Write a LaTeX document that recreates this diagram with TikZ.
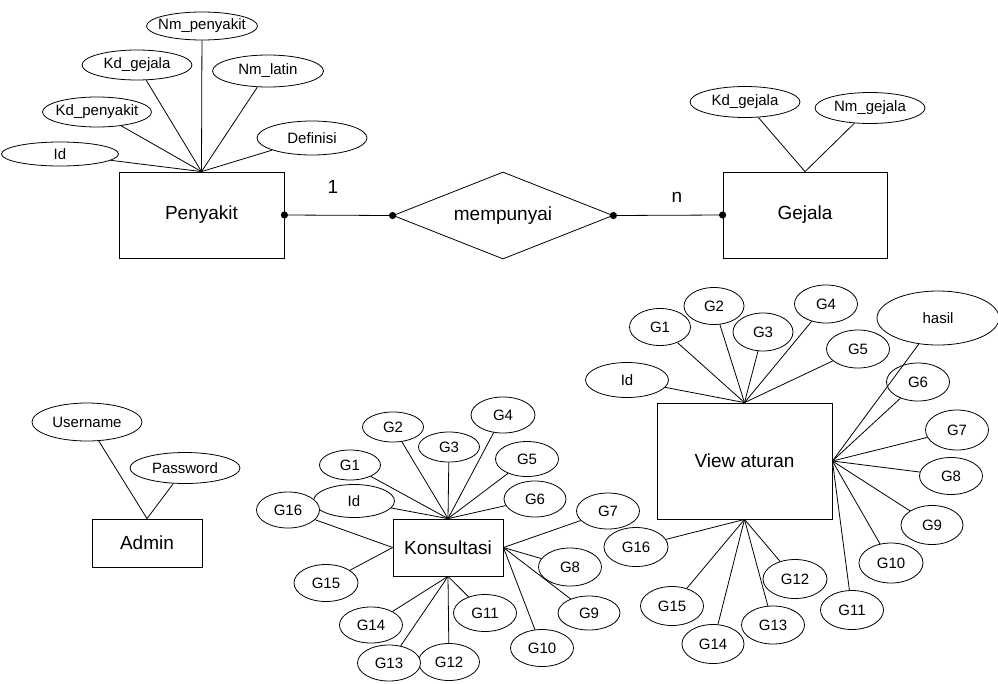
\documentclass[tikz,border=0pt]{standalone}
\usepackage{fontspec}
\setmainfont{Liberation Sans}
\usetikzlibrary{shapes.geometric}
\newcommand\zw[1]{\makebox[0pt]{#1}}
\tikzset{
  attr/.style={ellipse, draw, fill=white, inner sep=0pt, line width=0.8pt, font=\fontsize{15}{18}\selectfont},
  ent/.style={rectangle, draw, fill=white, inner sep=0pt, line width=0.8pt, font=\fontsize{19}{23}\selectfont},
  rel/.style={diamond, draw, fill=white, inner sep=0pt, line width=0.8pt, font=\fontsize{19}{23}\selectfont},
  lnk/.style={line width=0.8pt},
  card/.style={font=\fontsize{19}{23}\selectfont, inner sep=0pt},
  dotr/.style={fill=black}
}
\newcommand\A[5]{\node[attr, minimum width=#3, minimum height=#4] (#1) at (#2) {\zw{#5}};}
\begin{document}
\begin{tikzpicture}[x=1pt,y=-1pt]
\useasboundingbox (0,0) rectangle (998,683);

% ---------- Penyakit ----------
\node[ent, minimum width=165, minimum height=86] (pen) at (201.5,215) {Penyakit};
\A{pid}{60,154}{117}{24}{Id}
\A{pkdp}{97,112}{109}{30}{Kd\_penyakit}
\A{pkdg}{137,65}{110}{30}{Kd\_gejala}
\A{pnmp}{202,26}{111}{28}{Nm\_penyakit}
\A{pnml}{268,71}{111}{32}{Nm\_latin}
\A{pdef}{312,138}{110}{34}{Definisi}
\foreach \n in {pid,pkdp,pkdg,pnmp,pnml,pdef} \draw[lnk] (\n) -- (pen.north);

% ---------- relationship ----------
\node[rel, minimum width=220, minimum height=87] (mp) at (503,215.5) {\zw{mempunyai}};
\node[ent, minimum width=164, minimum height=86] (gej) at (805,215) {Gejala};
\draw[lnk] (pen.east) -- (mp.west);
\draw[lnk] (mp.east) -- (gej.west);
\foreach \p in {pen.east,mp.west,mp.east,gej.west} \fill[dotr] (\p) circle[radius=3.6];
\node[card] (c1) at (333,187) {1};
\node[card] (cn) at (677,197) {n};

% ---------- Gejala attrs ----------
\A{gkd}{745,102}{110}{31}{Kd\_gejala}
\A{gnm}{870,108}{110}{31}{Nm\_gejala}
\draw[lnk] (gkd) -- (gej.north);
\draw[lnk] (gnm) -- (gej.north);

% ---------- Admin ----------
\node[ent, minimum width=110, minimum height=48] (adm) at (147,543) {Admin};
\A{usr}{87,422}{110}{38}{Username}
\A{pwd}{185,468}{110}{31}{Password}
\draw[lnk] (usr) -- (adm.north);
\draw[lnk] (pwd) -- (adm.north);

% ---------- Konsultasi ----------
\node[ent, minimum width=110, minimum height=57] (kon) at (448,547.5) {Konsultasi};
\A{kid}{354,501}{81}{33}{Id}
\A{k16}{288,510}{63}{36}{G16}
\A{k1}{350,465}{61}{30}{G1}
\A{k2}{393,427}{61}{30}{G2}
\A{k3}{449,447}{61}{30}{G3}
\A{k4}{503,415}{64}{36}{G4}
\A{k5}{527,459}{63}{35}{G5}
\A{k6}{535,499}{62}{36}{G6}
\A{k7}{608,511}{63}{36}{G7}
\A{k8}{570,567}{63}{38}{G8}
\A{k9}{589,613}{62}{34}{G9}
\A{k10}{542,648}{63}{37}{G10}
\A{k11}{485,613}{63}{37}{G11}
\A{k12}{449,662}{61}{37}{G12}
\A{k13}{389,663}{63}{36}{G13}
\A{k14}{371,625}{63}{36}{G14}
\A{k15}{326,583}{64}{37}{G15}
\foreach \n in {kid,k1,k2,k3,k4,k5,k6} \draw[lnk] (\n) -- (kon.north);
\foreach \n in {k7,k8,k9,k10} \draw[lnk] (\n) -- (kon.east);
\foreach \n in {k11,k12,k13,k14} \draw[lnk] (\n) -- (kon.south);
\foreach \n in {k15,k16} \draw[lnk] (\n) -- (kon.west);

% ---------- View aturan ----------
\node[ent, minimum width=175, minimum height=116] (va) at (744.5,461) {View aturan};
\A{vid}{627,380}{83}{35}{Id}
\A{v1}{660,327}{61}{37}{G1}
\A{v2}{714,306}{60}{37}{G2}
\A{v3}{763,332}{60}{38}{G3}
\A{v4}{826,304}{63}{38}{G4}
\A{v5}{858,349}{63}{38}{G5}
\A{vh}{938,318}{122}{54}{hasil}
\A{v6}{918,382}{63}{38}{G6}
\A{v7}{957,430}{63}{40}{G7}
\A{v8}{951,476}{63}{37}{G8}
\A{v9}{932,525}{62}{39}{G9}
\A{v10}{891,563}{64}{40}{G10}
\A{v11}{852,610}{63}{39}{G11}
\A{v12}{795,579}{64}{39}{G12}
\A{v13}{773,625}{63}{38}{G13}
\A{v14}{713,644}{62}{39}{G14}
\A{v15}{672,606}{63}{39}{G15}
\A{v16}{636,547}{64}{39}{G16}
\foreach \n in {vid,v1,v2,v3,v4,v5} \draw[lnk] (\n) -- (va.north);
\foreach \n in {vh,v6,v7,v8,v9,v10,v11} \draw[lnk] (\n) -- (va.east);
\foreach \n in {v12,v13,v14,v15,v16} \draw[lnk] (\n) -- (va.south);
\end{tikzpicture}
\end{document}
